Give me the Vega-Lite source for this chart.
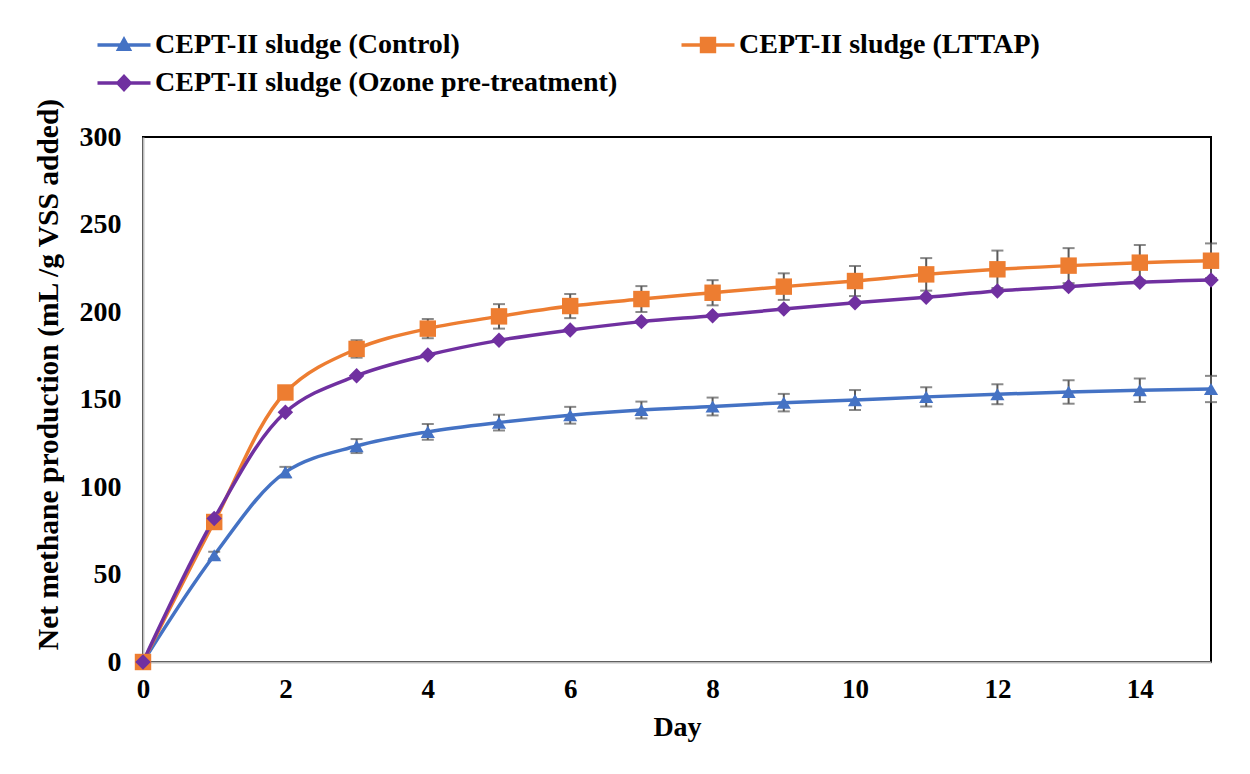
{
  "$schema": "https://vega.github.io/schema/vega-lite/v6.json",
  "width": 1068,
  "height": 525,
  "autosize": {"type": "none"},
  "padding": {"left": 143, "top": 137, "right": 39, "bottom": 112},
  "background": "white",
  "config": {
    "view": {"stroke": "#000000", "strokeWidth": 2},
    "font": "Liberation Serif"
  },
  "data": {
    "values": [
      {"series": "CEPT-II sludge (Control)", "day": 0, "value": 0, "err": 0},
      {"series": "CEPT-II sludge (Control)", "day": 1, "value": 61, "err": 2},
      {"series": "CEPT-II sludge (Control)", "day": 2, "value": 108.5, "err": 3},
      {"series": "CEPT-II sludge (Control)", "day": 3, "value": 123.4, "err": 4},
      {"series": "CEPT-II sludge (Control)", "day": 4, "value": 131.5, "err": 4.5},
      {"series": "CEPT-II sludge (Control)", "day": 5, "value": 136.8, "err": 4.5},
      {"series": "CEPT-II sludge (Control)", "day": 6, "value": 141, "err": 4.8},
      {"series": "CEPT-II sludge (Control)", "day": 7, "value": 144, "err": 4.8},
      {"series": "CEPT-II sludge (Control)", "day": 8, "value": 146, "err": 5.1},
      {"series": "CEPT-II sludge (Control)", "day": 9, "value": 148.2, "err": 5},
      {"series": "CEPT-II sludge (Control)", "day": 10, "value": 149.7, "err": 5.7},
      {"series": "CEPT-II sludge (Control)", "day": 11, "value": 151.5, "err": 5.5},
      {"series": "CEPT-II sludge (Control)", "day": 12, "value": 153, "err": 5.7},
      {"series": "CEPT-II sludge (Control)", "day": 13, "value": 154.3, "err": 6.7},
      {"series": "CEPT-II sludge (Control)", "day": 14, "value": 155.3, "err": 6.7},
      {"series": "CEPT-II sludge (Control)", "day": 15, "value": 156, "err": 7.5},
      {"series": "CEPT-II sludge (LTTAP)", "day": 0, "value": 0, "err": 0},
      {"series": "CEPT-II sludge (LTTAP)", "day": 1, "value": 80, "err": 2},
      {"series": "CEPT-II sludge (LTTAP)", "day": 2, "value": 154, "err": 3},
      {"series": "CEPT-II sludge (LTTAP)", "day": 3, "value": 178.9, "err": 5},
      {"series": "CEPT-II sludge (LTTAP)", "day": 4, "value": 190.5, "err": 5.5},
      {"series": "CEPT-II sludge (LTTAP)", "day": 5, "value": 197.5, "err": 7},
      {"series": "CEPT-II sludge (LTTAP)", "day": 6, "value": 203.4, "err": 6.9},
      {"series": "CEPT-II sludge (LTTAP)", "day": 7, "value": 207.4, "err": 7.4},
      {"series": "CEPT-II sludge (LTTAP)", "day": 8, "value": 211, "err": 7.2},
      {"series": "CEPT-II sludge (LTTAP)", "day": 9, "value": 214.5, "err": 7.6},
      {"series": "CEPT-II sludge (LTTAP)", "day": 10, "value": 217.7, "err": 8.6},
      {"series": "CEPT-II sludge (LTTAP)", "day": 11, "value": 221.5, "err": 9.3},
      {"series": "CEPT-II sludge (LTTAP)", "day": 12, "value": 224.4, "err": 10.7},
      {"series": "CEPT-II sludge (LTTAP)", "day": 13, "value": 226.5, "err": 10},
      {"series": "CEPT-II sludge (LTTAP)", "day": 14, "value": 228.2, "err": 10.1},
      {"series": "CEPT-II sludge (LTTAP)", "day": 15, "value": 229.3, "err": 9.9},
      {"series": "CEPT-II sludge (Ozone pre-treatment)", "day": 0, "value": 0},
      {"series": "CEPT-II sludge (Ozone pre-treatment)", "day": 1, "value": 82},
      {"series": "CEPT-II sludge (Ozone pre-treatment)", "day": 2, "value": 142.7},
      {"series": "CEPT-II sludge (Ozone pre-treatment)", "day": 3, "value": 163.6},
      {"series": "CEPT-II sludge (Ozone pre-treatment)", "day": 4, "value": 175.4},
      {"series": "CEPT-II sludge (Ozone pre-treatment)", "day": 5, "value": 183.8},
      {"series": "CEPT-II sludge (Ozone pre-treatment)", "day": 6, "value": 189.7},
      {"series": "CEPT-II sludge (Ozone pre-treatment)", "day": 7, "value": 194.5},
      {"series": "CEPT-II sludge (Ozone pre-treatment)", "day": 8, "value": 197.9},
      {"series": "CEPT-II sludge (Ozone pre-treatment)", "day": 9, "value": 201.7},
      {"series": "CEPT-II sludge (Ozone pre-treatment)", "day": 10, "value": 205.3},
      {"series": "CEPT-II sludge (Ozone pre-treatment)", "day": 11, "value": 208.4},
      {"series": "CEPT-II sludge (Ozone pre-treatment)", "day": 12, "value": 212},
      {"series": "CEPT-II sludge (Ozone pre-treatment)", "day": 13, "value": 214.5},
      {"series": "CEPT-II sludge (Ozone pre-treatment)", "day": 14, "value": 217},
      {"series": "CEPT-II sludge (Ozone pre-treatment)", "day": 15, "value": 218.3}
    ]
  },
  "encoding": {
    "x": {
      "field": "day", "type": "quantitative",
      "scale": {"domain": [0, 15], "nice": false},
      "axis": {
        "title": "Day", "values": [0, 2, 4, 6, 8, 10, 12, 14],
        "grid": false, "ticks": false, "domainColor": "#BFBFBF", "domainWidth": 2,
        "labelFont": "Liberation Serif", "labelFontWeight": "bold", "labelFontSize": 27, "labelColor": "#000000",
        "labelPadding": 14, "labelFlush": false,
        "titleFont": "Liberation Serif", "titleFontWeight": "bold", "titleFontSize": 28, "titleColor": "#000000",
        "titlePadding": 11
      }
    },
    "y": {
      "field": "value", "type": "quantitative",
      "scale": {"domain": [0, 300], "nice": false},
      "axis": {
        "title": "Net methane production (mL /g VSS added)", "values": [0, 50, 100, 150, 200, 250, 300],
        "grid": false, "ticks": false, "domainColor": "#BFBFBF", "domainWidth": 2,
        "labelFont": "Liberation Serif", "labelFontWeight": "bold", "labelFontSize": 28, "labelColor": "#000000",
        "labelPadding": 22, "labelFlush": false,
        "titleFont": "Liberation Serif", "titleFontWeight": "bold", "titleFontSize": 29.5, "titleColor": "#000000",
        "titlePadding": 16, "titleY": 237
      }
    }
  },
  "layer": [
    {
      "transform": [{"filter": "datum.series == 'CEPT-II sludge (Control)'"}],
      "mark": {"type": "line", "color": "#4472C4", "strokeWidth": 3.5, "interpolate": "catmull-rom"}
    },
    {
      "transform": [{"filter": "datum.series == 'CEPT-II sludge (LTTAP)'"}],
      "mark": {"type": "line", "color": "#ED7D31", "strokeWidth": 3.5, "interpolate": "catmull-rom"}
    },
    {
      "transform": [{"filter": "datum.series == 'CEPT-II sludge (Ozone pre-treatment)'"}],
      "mark": {"type": "line", "color": "#7030A0", "strokeWidth": 3.5, "interpolate": "catmull-rom"}
    },
    {
      "transform": [{"filter": "datum.err != null && datum.err > 0"}],
      "mark": {"type": "errorbar", "ticks": true, "size": 12, "thickness": 2, "color": "#595959"},
      "encoding": {
        "x": {"field": "day", "type": "quantitative"},
        "y": {"field": "value", "type": "quantitative"},
        "yError": {"field": "err"},
        "detail": {"field": "series"}
      }
    },
    {
      "transform": [{"filter": "datum.series == 'CEPT-II sludge (Control)'"}],
      "mark": {"type": "point", "shape": "triangle-up", "filled": true, "opacity": 1, "color": "#4472C4", "size": 200}
    },
    {
      "transform": [{"filter": "datum.series == 'CEPT-II sludge (LTTAP)'"}],
      "mark": {"type": "point", "shape": "square", "filled": true, "opacity": 1, "color": "#ED7D31", "size": 270}
    },
    {
      "transform": [{"filter": "datum.series == 'CEPT-II sludge (Ozone pre-treatment)'"}],
      "mark": {"type": "point", "shape": "diamond", "filled": true, "opacity": 1, "color": "#7030A0", "size": 240}
    },
    {
      "transform": [{"filter": "datum.day == 0"}],
      "mark": {"type": "point", "filled": true, "opacity": 0, "size": 400},
      "encoding": {
        "color": {
          "field": "series", "type": "nominal",
          "scale": {
            "domain": ["CEPT-II sludge (Control)", "CEPT-II sludge (LTTAP)", "CEPT-II sludge (Ozone pre-treatment)"],
            "range": ["#4472C4", "#ED7D31", "#7030A0"]
          },
          "legend": {
            "title": null, "orient": "none", "legendX": -33, "legendY": -106, "direction": "horizontal",
            "columns": 2, "columnPadding": 63, "rowPadding": 10,
            "symbolSize": 400, "symbolOpacity": 1, "symbolStrokeWidth": 0, "labelOffset": 17,
            "labelFont": "Liberation Serif", "labelFontWeight": "bold", "labelFontSize": 28, "labelColor": "#000000",
            "labelLimit": 0
          }
        },
        "shape": {
          "field": "series", "type": "nominal",
          "scale": {
            "domain": ["CEPT-II sludge (Control)", "CEPT-II sludge (LTTAP)", "CEPT-II sludge (Ozone pre-treatment)"],
            "range": [
              "M-2.65,-0.18H2.65V0.18H-2.65Z M0,-0.9L0.82,0.6L-0.82,0.6Z",
              "M-2.65,-0.18H2.65V0.18H-2.65Z M-0.82,-0.82H0.82V0.82H-0.82Z",
              "M-2.65,-0.18H2.65V0.18H-2.65Z M0,-0.9L0.85,0L0,0.9L-0.85,0Z"
            ]
          },
          "legend": {
            "title": null, "orient": "none", "legendX": -33, "legendY": -106, "direction": "horizontal",
            "columns": 2, "columnPadding": 63, "rowPadding": 10,
            "symbolSize": 400, "symbolOpacity": 1, "symbolStrokeWidth": 0, "labelOffset": 17,
            "labelFont": "Liberation Serif", "labelFontWeight": "bold", "labelFontSize": 28, "labelColor": "#000000",
            "labelLimit": 0
          }
        }
      }
    }
  ]
}
